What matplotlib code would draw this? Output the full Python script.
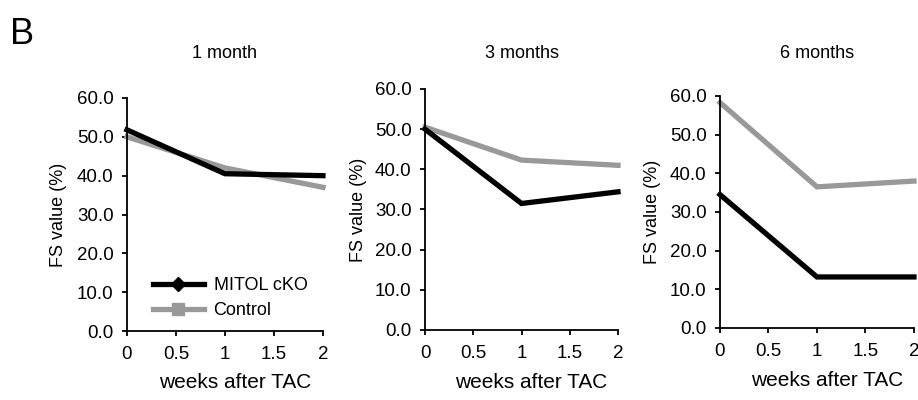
"""
FS value after TAC, MITOL cKO vs Control, at 1, 3 and 6 months.
"""
import matplotlib
matplotlib.use("Agg")
import matplotlib.pyplot as plt
from matplotlib.lines import Line2D

plt.rcParams["font.family"] = ["Liberation Sans", "DejaVu Sans"]

WEEKS = [0, 1, 2]
PANEL_TITLES = ["1 month", "3 months", "6 months"]
MITOL_CKO = [
    [51.8, 40.5, 40.0],
    [50.0, 31.5, 34.4],
    [34.5, 13.2, 13.2],
]
CONTROL = [
    [50.0, 42.0, 37.0],
    [50.5, 42.3, 41.0],
    [58.3, 36.5, 38.0],
]
Y_TICKS = [0, 10, 20, 30, 40, 50, 60]
X_TICKS = [0, 0.5, 1, 1.5, 2]

BLACK = "#000000"
GRAY = "#999999"

# axes boxes in figure fractions [left, bottom, width, height]
AX_BOXES = [
    [0.1383, 0.1725, 0.2135, 0.5825],
    [0.4630, 0.1750, 0.2102, 0.6025],
    [0.7843, 0.1800, 0.2113, 0.5800],
]

fig = plt.figure(figsize=(9.18, 4.0), dpi=100)

for i, box in enumerate(AX_BOXES):
    ax = fig.add_axes(box)
    ax.plot(WEEKS, MITOL_CKO[i], color=BLACK, lw=3.8, solid_joinstyle="miter",
            zorder=3, clip_on=False)
    ax.plot(WEEKS, CONTROL[i], color=GRAY, lw=3.8, solid_joinstyle="miter",
            zorder=2, clip_on=False)

    ax.set_xlim(0, 2)
    ax.set_ylim(0, 60)
    ax.set_xticks(X_TICKS)
    ax.set_xticklabels([f"{t:g}" for t in X_TICKS])
    ax.set_yticks(Y_TICKS)
    ax.set_yticklabels([f"{t:.1f}" for t in Y_TICKS])
    for side in ("top", "right"):
        ax.spines[side].set_visible(False)
    for side in ("left", "bottom"):
        ax.spines[side].set_linewidth(1.3)
    ax.tick_params(direction="out", length=3.6, width=1.3, labelsize=13.5)
    ax.tick_params(axis="y", pad=6)
    ax.tick_params(axis="x", pad=7)

    ax.set_ylabel("FS value (%)", fontsize=13)
    ax.yaxis.set_label_coords(-0.347, 0.5)
    ax.yaxis.label.set_va("center")
    ax.set_xlabel("weeks after TAC", fontsize=15)
    ax.xaxis.set_label_coords(0.55, -52 / (box[3] * 400))
    ax.xaxis.label.set_va("center")

    cx = box[0] + box[2] / 2
    fig.text(cx, 0.8675, PANEL_TITLES[i], ha="center", va="center", fontsize=13)

    if i == 0:
        handles = [
            Line2D([], [], color=BLACK, lw=3.8, marker="D", markersize=7),
            Line2D([], [], color=GRAY, lw=3.8, marker="s", markersize=8),
        ]
        ax.legend(handles, ["MITOL cKO", "Control"], loc="lower left",
                  bbox_to_anchor=(0.133, 0.05), frameon=False, fontsize=13,
                  handlelength=2.8, handletextpad=0.55, labelspacing=0.45,
                  borderpad=0, borderaxespad=0)

fig.text(0.011, 0.915, "B", fontsize=26, ha="left", va="center")

fig.savefig("out.png", dpi=100)
